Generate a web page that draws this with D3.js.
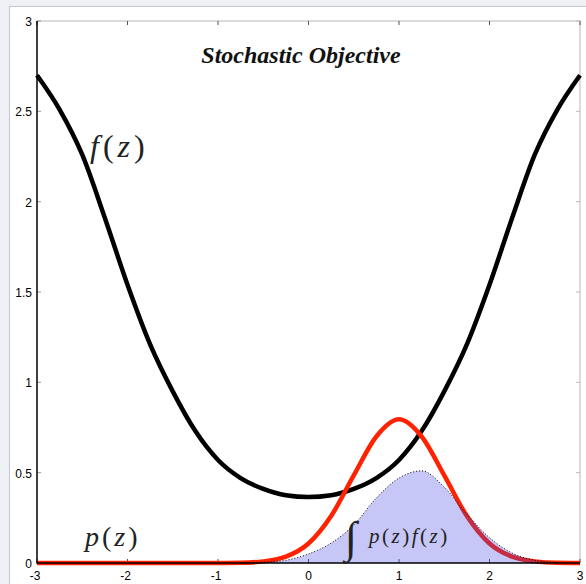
<!DOCTYPE html>
<html lang="en">
<head>
<meta charset="UTF-8">
<title>Stochastic Objective</title>
<script src="https://d3js.org/d3.v7.min.js"></script>
<style>
  body { margin: 0; background: #eef0f6; }
  svg { display: block; }
  .tick-label { font-family: "Liberation Sans", Arial, sans-serif; font-size: 12px; fill: #000; }
  .math { font-family: "Liberation Serif", "DejaVu Serif", serif; fill: #222; }
</style>
</head>
<body>
<svg id="chart" width="586" height="584"></svg>
<script>
// z grid and curves
const zValues = [-3, -2.75, -2.5, -2.25, -2, -1.75, -1.5, -1.25, -1, -0.75, -0.5, -0.25, 0,
                 0.25, 0.5, 0.75, 1, 1.25, 1.5, 1.75, 2, 2.25, 2.5, 2.75, 3];
const fValues = [2.70, 2.51, 2.26, 1.91, 1.54, 1.21, 0.95, 0.73, 0.57, 0.47, 0.41, 0.375, 0.365,
                 0.375, 0.41, 0.47, 0.57, 0.73, 0.95, 1.21, 1.54, 1.91, 2.26, 2.51, 2.70];
const pValues = [0, 0, 0, 0, 0, 0, 0, 0, 0, 0.001, 0.009, 0.035, 0.108,
                 0.26, 0.485, 0.70, 0.795, 0.70, 0.485, 0.26, 0.108, 0.035, 0.009, 0.001, 0];
const pfValues = [0, 0, 0, 0, 0, 0, 0, 0, 0, 0, 0.004, 0.015, 0.05,
                  0.11, 0.21, 0.36, 0.47, 0.51, 0.42, 0.27, 0.14, 0.055, 0.015, 0.003, 0];
const xTicks = [-3, -2, -1, 0, 1, 2, 3];
const yTicks = [0, 0.5, 1, 1.5, 2, 2.5, 3];

const svg = d3.select("#chart");

// white panel
svg.append("rect")
  .attr("x", 9.5).attr("y", 6.5)
  .attr("width", 600).attr("height", 600)
  .attr("fill", "#fff").attr("stroke", "#c4c6ce");

const plotLeft = 37, plotRight = 580, plotTop = 21, plotBottom = 563;
const x = d3.scaleLinear().domain([-3, 3]).range([plotLeft, plotRight]);
const y = d3.scaleLinear().domain([0, 3]).range([plotBottom, plotTop]);

// box: top / right light grey
svg.append("path")
  .attr("d", `M${plotLeft},${plotTop}H${plotRight}V${plotBottom}`)
  .attr("fill", "none").attr("stroke", "#d0d0d0").attr("stroke-width", 1.5);

// ticks on all four sides
const tickG = svg.append("g").attr("stroke", "#555").attr("stroke-width", 1);
xTicks.forEach(t => {
  tickG.append("line").attr("x1", x(t)).attr("x2", x(t)).attr("y1", plotBottom).attr("y2", plotBottom - 4);
  tickG.append("line").attr("x1", x(t)).attr("x2", x(t)).attr("y1", plotTop).attr("y2", plotTop + 4);
});
yTicks.forEach(t => {
  tickG.append("line").attr("x1", plotLeft).attr("x2", plotLeft + 4).attr("y1", y(t)).attr("y2", y(t)).attr("stroke", "#999");
  tickG.append("line").attr("x1", plotRight).attr("x2", plotRight - 4).attr("y1", y(t)).attr("y2", y(t)).attr("stroke", "#bbb");
});

svg.selectAll(".xl").data(xTicks).join("text")
  .attr("class", "tick-label")
  .attr("x", d => x(d) - (d < 0 ? 2 : 0)).attr("y", 580)
  .attr("text-anchor", "middle")
  .text(d => d);
svg.selectAll(".yl").data(yTicks).join("text")
  .attr("class", "tick-label")
  .attr("x", 32).attr("y", d => y(d) + 5)
  .attr("text-anchor", "end")
  .text(d => d);

const pts = arr => zValues.map((z, i) => [z, arr[i]]);
const line = d3.line().x(d => x(d[0])).y(d => y(d[1])).curve(d3.curveMonotoneX);
const area = d3.area().x(d => x(d[0])).y0(y(0)).y1(d => y(d[1])).curve(d3.curveMonotoneX);

// f(z)
svg.append("path")
  .attr("d", line(pts(fValues)))
  .attr("fill", "none").attr("stroke", "#000").attr("stroke-width", 4.5);

// p(z)
svg.append("path")
  .attr("d", line(pts(pValues)))
  .attr("fill", "none").attr("stroke", "#ff2200").attr("stroke-width", 4.5);

// p(z) f(z) shaded
svg.append("path")
  .attr("d", area(pts(pfValues)))
  .attr("fill", "rgb(71,71,230)").attr("fill-opacity", 0.3);
svg.append("path")
  .attr("d", line(pts(pfValues).filter(d => d[0] > -1 && d[0] < 2.9)))
  .attr("fill", "none").attr("stroke", "#000").attr("stroke-width", 1)
  .attr("stroke-dasharray", "1,2");

// left / bottom axis lines
svg.append("path")
  .attr("d", `M${plotLeft},${plotTop}V${plotBottom}H${plotRight}`)
  .attr("fill", "none").attr("stroke", "#000").attr("stroke-width", 1.5);

// title
svg.append("text")
  .attr("x", 301).attr("y", 63)
  .attr("text-anchor", "middle")
  .attr("font-family", "'Liberation Serif', serif")
  .attr("font-size", 24).attr("font-weight", "bold").attr("font-style", "italic")
  .attr("fill", "#111")
  .text("Stochastic Objective");

function mathLabel(px, py, size, spacing, parts) {
  const t = svg.append("text").attr("class", "math")
    .attr("x", px).attr("y", py).attr("font-size", size)
    .attr("letter-spacing", spacing);
  parts.forEach(p => t.append("tspan").attr("font-style", p[1] ? "italic" : "normal").text(p[0]));
  return t;
}
mathLabel(90, 157, 32, 4, [["f", true], ["(", false], ["z", true], [")", false]]);
mathLabel(85, 546, 28, 3, [["p", true], ["(", false], ["z", true], [")", false]]);
mathLabel(369, 543, 21, 2.5, [["p", true], ["(", false], ["z", true], [")", false], ["f", true], ["(", false], ["z", true], [")", false]]);
svg.append("text").attr("class", "math")
  .attr("x", 345).attr("y", 552)
  .attr("font-size", 44).attr("font-style", "italic")
  .text("\u222B");
</script>
</body>
</html>
